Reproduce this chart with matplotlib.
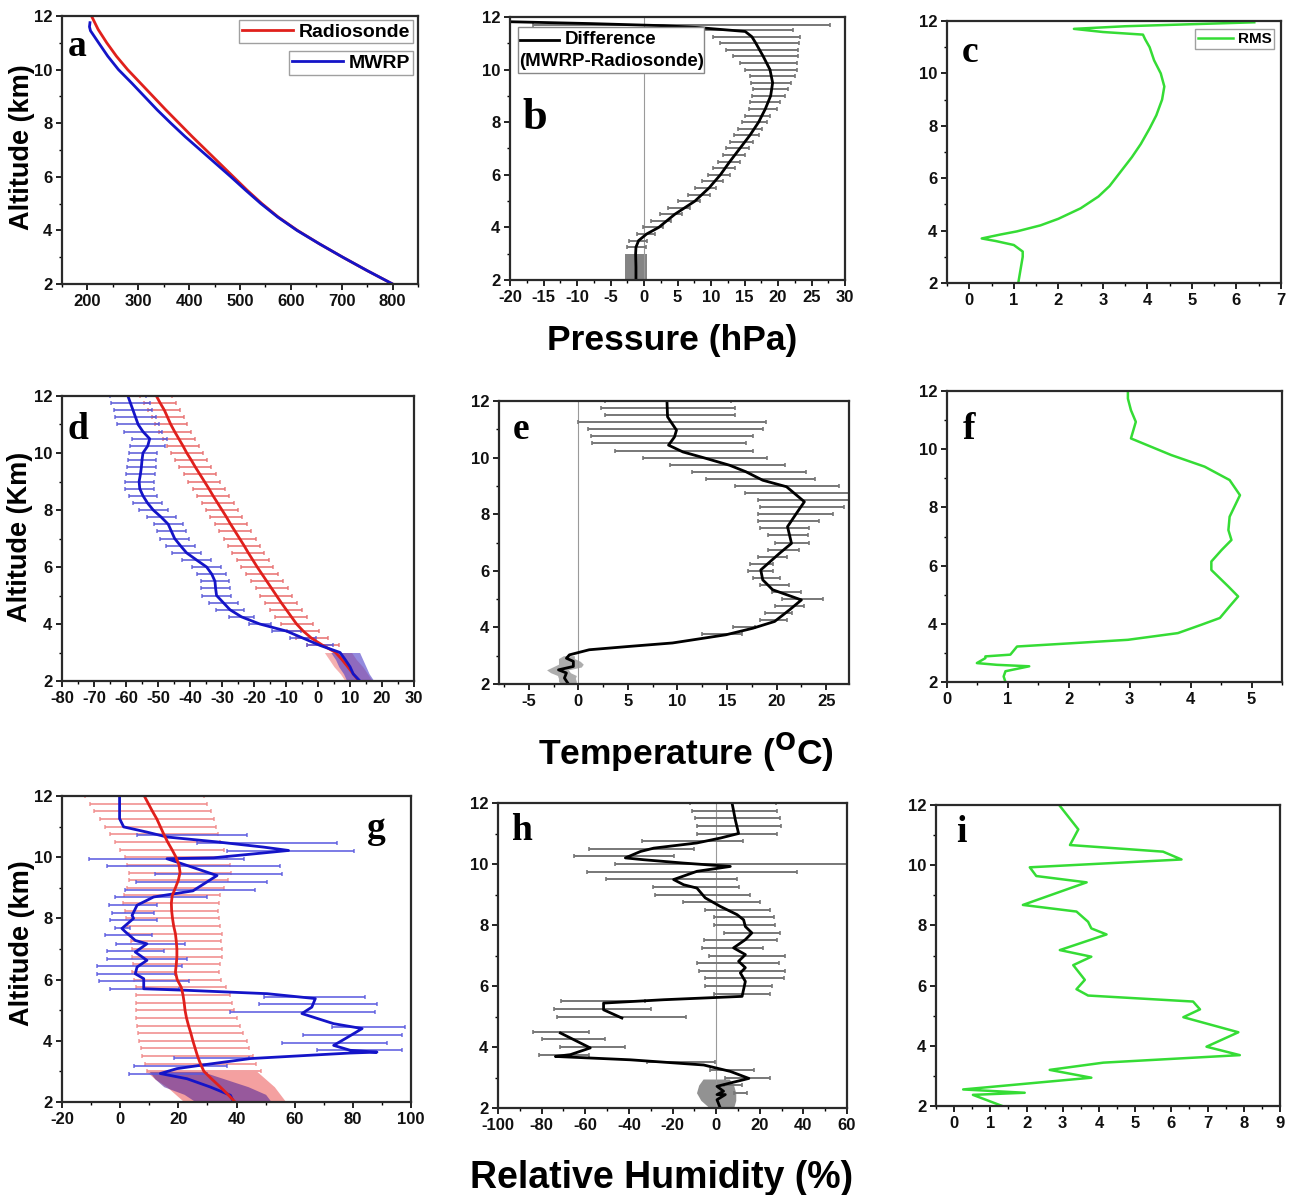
import numpy as np
import matplotlib
matplotlib.use("Agg")
import matplotlib.pyplot as plt
from matplotlib.ticker import MultipleLocator, AutoMinorLocator
from matplotlib.lines import Line2D
from matplotlib.patches import Rectangle

plt.rcParams['font.family'] = ['Liberation Sans', 'DejaVu Sans']
plt.rcParams['font.weight'] = 'bold'
plt.rcParams['axes.unicode_minus'] = False

# ---------------- DATA ----------------
# (a) pressure profiles
a_alt = [2.0, 2.5, 3.0, 3.5, 4.0, 4.5, 5.0, 5.5, 6.0, 6.5, 7.0, 7.5, 8.0, 8.5, 9.0, 9.5, 10.0, 10.5, 11.0, 11.5, 12.0]
a_radiosonde = [800, 750, 702, 656, 613, 575, 543, 514, 487, 460, 433, 406, 380, 354, 329, 304, 279, 257, 238, 221, 208]
a_mwrp_alt = [2.0, 2.5, 3.0, 3.5, 4.0, 4.5, 5.0, 5.5, 6.0, 6.5, 7.0, 7.5, 8.0, 8.5, 9.0, 9.5, 10.0, 10.5, 11.0, 11.45, 11.6, 11.75]
a_mwrp = [800, 750, 702, 656, 612, 574, 541, 511, 482, 452, 422, 392, 364, 337, 312, 287, 261, 240, 222, 206, 204, 205]

# (b) pressure difference (MWRP - Radiosonde)
b_alt = [2.0, 2.5, 3.0, 3.25, 3.5, 3.75, 4.0, 4.5, 5.0, 5.5, 6.0, 6.5, 7.0, 7.5, 8.0, 8.5, 9.0, 9.5, 10.0, 10.5, 11.0, 11.25, 11.45, 11.6, 11.67, 11.75, 11.82]
b_diff = [-1.2, -1.2, -1.25, -1.2, -0.8, 0.4, 2.2, 4.6, 7.6, 9.7, 11.4, 12.8, 14.3, 15.8, 17.1, 18.1, 18.9, 19.2, 18.8, 17.8, 16.7, 16.1, 15.1, 8.0, 2.9, -8.0, -20.0]
b_bar_alt = [3.25, 3.5, 3.75, 4.0, 4.25, 4.5, 4.75, 5.0, 5.25, 5.5, 5.75, 6.0, 6.25, 6.5, 6.75, 7.0, 7.25, 7.5, 7.75, 8.0, 8.25, 8.5, 8.75, 9.0, 9.25, 9.5, 9.75, 10.0, 10.25, 10.5, 10.75, 11.0, 11.25, 11.5, 11.7]
b_bar_lo = [-2.6, -2.3, -1.1, -0.1, 1.1, 2.4, 3.6, 5.1, 6.6, 7.6, 8.6, 9.6, 10.3, 11.1, 11.8, 12.3, 12.8, 13.4, 14.1, 14.6, 15.1, 15.6, 15.8, 16.1, 16.2, 16.0, 15.8, 15.1, 14.3, 13.3, 12.3, 11.3, 10.3, 8.9, -16.5]
b_bar_hi = [0.3, 0.4, 1.6, 2.9, 4.1, 5.6, 6.9, 8.4, 9.9, 10.8, 11.8, 12.8, 13.6, 14.3, 15.1, 15.6, 16.3, 17.1, 17.6, 18.3, 18.8, 19.8, 20.3, 21.0, 21.5, 22.0, 22.5, 22.8, 22.8, 23.0, 23.0, 23.2, 23.3, 22.3, 27.8]
b_low_alt = [2.0, 3.0]
b_low_lo = [-2.8, -2.8]
b_low_hi = [0.4, 0.4]

# (c) pressure RMS
c_alt = [2.0, 2.5, 3.0, 3.2, 3.45, 3.6, 3.7, 3.85, 3.97, 4.2, 4.45, 4.85, 5.3, 5.7, 6.25, 6.8, 7.3, 7.9, 8.4, 9.0, 9.5, 10.0, 10.5, 11.0, 11.3, 11.48, 11.58, 11.7, 11.8, 11.95]
c_rms = [1.1, 1.15, 1.2, 1.2, 1.0, 0.6, 0.28, 0.7, 1.07, 1.6, 2.0, 2.5, 2.9, 3.15, 3.4, 3.65, 3.85, 4.05, 4.2, 4.33, 4.38, 4.3, 4.15, 4.05, 3.95, 3.9, 3.0, 2.35, 3.5, 6.4]

# (d) temperature profiles
d_alt = [2.0, 2.25, 2.5, 2.75, 3.0, 3.25, 3.5, 3.75, 4.0, 4.25, 4.5, 4.75, 5.0, 5.25, 5.5, 5.75, 6.0, 6.25, 6.5, 6.75, 7.0, 7.25, 7.5, 7.75, 8.0, 8.25, 8.5, 8.75, 9.0, 9.25, 9.5, 9.75, 10.0, 10.25, 10.5, 10.75, 11.0, 11.25, 11.5, 11.75, 12.0]
d_radiosonde = [12.8, 11.0, 9.3, 7.5, 5.5, 1.5, -2.0, -4.6, -6.7, -8.3, -9.9, -11.5, -13.0, -14.5, -16.0, -17.5, -19.0, -20.4, -21.8, -23.1, -24.5, -25.9, -27.3, -28.6, -30.0, -31.4, -32.8, -34.1, -35.5, -36.9, -38.3, -39.6, -41.0, -42.2, -43.5, -44.8, -46.0, -47.0, -48.0, -49.3, -50.5]
d_mwrp = [13.1, 11.0, 10.0, 8.5, 6.9, 0.6, -4.6, -9.8, -18.2, -23.9, -27.5, -29.6, -31.7, -32.0, -32.2, -33.2, -34.8, -38.0, -41.1, -43.0, -44.8, -45.8, -46.8, -49.0, -51.5, -53.3, -54.7, -55.7, -55.9, -55.5, -55.2, -55.0, -54.7, -53.2, -52.6, -54.7, -56.2, -57.0, -57.8, -58.6, -59.4]
d_radiosonde_err = [5, 5, 5, 5, 5, 5, 5, 5, 5, 5, 5, 5, 5, 5, 5, 5, 5, 5, 5, 5, 5, 5, 5, 5, 5, 5, 5, 5, 5, 5, 5, 5, 5, 5, 5, 5, 5, 5, 5, 5, 5]
d_mwrp_err = [4, 4, 4, 4, 4, 4, 4, 4.5, 3.5, 4, 4.5, 4.5, 4.5, 4.5, 4.5, 4.5, 4.5, 4.5, 4.5, 4.5, 4.5, 4.5, 4.5, 4.5, 4.5, 4.5, 4.5, 4.5, 4.5, 4.5, 4.5, 4.5, 4.5, 5.5, 5.5, 6, 6.5, 6.5, 6, 6, 5.5]
d_low_alt = [2.0, 2.25, 2.5, 2.75, 3.0]
d_red_low_lo = [8.5, 7.0, 5.0, 3.5, 2.0]
d_red_low_hi = [17.0, 15.5, 14.0, 12.0, 10.5]
d_blue_low_lo = [9.0, 8.0, 6.5, 5.5, 4.0]
d_blue_low_hi = [17.5, 16.0, 15.0, 14.0, 13.0]

# (e) temperature difference
e_alt = [2.0, 2.21, 2.39, 2.5, 2.62, 2.8, 2.91, 3.03, 3.21, 3.33, 3.45, 3.74, 3.97, 4.21, 4.62, 4.97, 5.33, 5.68, 6.03, 6.62, 6.97, 7.56, 8.03, 8.44, 8.97, 9.2, 9.5, 9.73, 9.97, 10.2, 10.44, 10.73, 10.97, 11.44, 12.0]
e_diff = [-1.0, -1.4, -1.2, -2.0, -0.5, -0.5, -1.2, -0.9, 1.1, 5.2, 9.5, 14.9, 17.6, 19.8, 21.3, 22.5, 19.6, 18.6, 18.4, 20.3, 21.5, 21.1, 22.0, 22.8, 21.0, 18.6, 16.9, 15.25, 12.9, 10.55, 9.1, 9.7, 9.9, 9.0, 8.94]
e_bar_alt = [3.75, 4.0, 4.25, 4.5, 4.75, 5.0, 5.25, 5.5, 5.75, 6.0, 6.25, 6.5, 6.75, 7.0, 7.25, 7.5, 7.75, 8.0, 8.25, 8.5, 8.75, 9.0, 9.25, 9.5, 9.75, 10.0, 10.25, 10.5, 10.75, 11.0, 11.25, 11.5, 11.75, 12.0]
e_bar_lo = [12.5, 15.6, 18.3, 18.8, 19.8, 20.5, 19.5, 18.3, 17.6, 17.1, 17.3, 18.1, 19.1, 19.8, 19.1, 18.3, 18.1, 18.1, 18.3, 18.1, 16.8, 15.8, 12.9, 11.5, 9.2, 6.5, 3.7, 1.4, 1.3, 1.0, 0.0, 2.7, 2.3, 2.7]
e_bar_hi = [16.5, 17.8, 21.0, 21.6, 22.8, 24.7, 22.5, 21.2, 20.3, 19.6, 19.6, 21.0, 22.3, 23.3, 23.2, 23.3, 24.3, 25.7, 26.8, 27.5, 27.5, 26.3, 23.9, 23.0, 20.8, 19.05, 17.6, 16.9, 17.6, 18.6, 18.9, 15.8, 15.8, 15.4]
e_low_alt = [2.0, 2.1, 2.2, 2.3, 2.4, 2.5, 2.6, 2.7, 2.8, 2.9, 3.0]
e_low_lo = [-1.8, -2.0, -2.0, -2.1, -2.8, -3.2, -2.6, -2.0, -2.0, -2.0, -1.5]
e_low_hi = [-0.2, -0.2, -0.3, -0.2, -0.8, -1.0, 0.3, 0.5, 0.2, -0.4, -0.4]

# (f) temperature RMS
f_alt = [2.0, 2.19, 2.37, 2.54, 2.59, 2.65, 2.82, 2.88, 2.94, 3.22, 3.33, 3.45, 3.68, 3.97, 4.2, 4.6, 4.94, 5.28, 5.85, 6.14, 6.54, 6.88, 7.22, 7.68, 8.42, 8.94, 9.4, 9.8, 10.37, 10.94, 11.34, 11.74, 12.0]
f_rms = [0.96, 0.93, 0.96, 1.35, 0.82, 0.49, 0.63, 0.63, 1.04, 1.15, 2.03, 2.97, 3.79, 4.18, 4.48, 4.64, 4.78, 4.62, 4.34, 4.34, 4.51, 4.67, 4.62, 4.64, 4.81, 4.64, 4.23, 3.68, 3.02, 3.1, 3.02, 2.97, 2.97]

# (g) relative humidity profiles
g_red_alt = [2.0, 2.25, 2.5, 2.75, 3.0, 3.25, 3.5, 3.75, 4.0, 4.25, 4.5, 4.75, 5.0, 5.25, 5.5, 5.75, 6.0, 6.25, 6.5, 6.75, 7.0, 7.25, 7.5, 7.75, 8.0, 8.25, 8.5, 8.75, 9.0, 9.25, 9.5, 9.75, 10.0, 10.25, 10.5, 10.75, 11.0, 11.25, 11.5, 11.75, 12.0]
g_radiosonde = [39.5, 37.0, 34.3, 31.5, 28.8, 27.6, 26.6, 25.8, 25.0, 24.3, 23.5, 22.8, 22.3, 22.0, 21.6, 21.0, 19.6, 19.0, 19.3, 19.5, 19.5, 19.3, 19.0, 18.4, 18.0, 17.7, 17.6, 17.9, 19.0, 20.0, 20.6, 20.2, 19.2, 17.8, 16.3, 15.0, 13.8, 12.6, 11.1, 9.7, 8.3]
g_radiosonde_err = [17, 17, 18, 19, 19.5, 19, 19, 18.5, 18.5, 18, 17.8, 17.5, 17, 16.5, 16, 15.5, 15, 15, 15, 15.5, 15.5, 15.5, 16, 16, 16, 16, 16.5, 16.5, 16.6, 17, 17.5, 17.7, 17.7, 18, 18, 18.5, 19, 19.5, 20, 20, 20.5]
g_mwrp_alt = [2.0, 2.22, 2.49, 2.76, 2.93, 3.09, 3.2, 3.42, 3.6, 3.63, 3.69, 3.85, 4.07, 4.4, 4.56, 4.89, 5.1, 5.38, 5.54, 5.65, 5.7, 6.03, 6.19, 6.41, 6.63, 6.9, 7.17, 7.28, 7.56, 7.67, 8.0, 8.1, 8.43, 8.7, 8.9, 9.4, 9.73, 9.95, 9.98, 10.22, 10.33, 10.5, 10.66, 10.82, 10.99, 11.26, 12.0]
g_mwrp = [39.0, 37.9, 31.0, 23.0, 13.8, 19.5, 27.6, 44.8, 79.0, 88.3, 79.1, 73.4, 77.4, 83.2, 73.4, 62.5, 65.9, 67.1, 50.5, 23.0, 8.1, 8.1, 5.2, 5.8, 9.2, 5.2, 9.2, 5.2, 1.8, 0.6, 4.6, 4.1, 5.8, 11.5, 25.0, 33.3, 23.0, 16.1, 32.1, 57.9, 49.3, 33.3, 16.1, 9.2, 1.2, -0.2, -0.2]
g_bar_alt = [2.93, 3.18, 3.44, 3.69, 3.93, 4.18, 4.45, 4.94, 5.19, 5.43, 5.69, 5.95, 6.19, 6.43, 6.68, 6.93, 7.17, 7.45, 7.7, 7.96, 8.19, 8.45, 8.7, 8.94, 9.19, 9.44, 9.7, 9.95, 10.2, 10.46, 10.74]
g_bar_lo = [2.9, 4.6, 18.4, 67.7, 55.6, 63.0, 72.8, 37.9, 47.6, 49.3, -3.4, -7.4, -8.0, -8.0, -4.5, -4.5, -1.3, -5.1, -1.7, -3.4, -2.8, -4.0, -1.7, 1.8, 5.6, 12.1, -4.5, -10.8, 36.7, 26.4, 5.8]
g_bar_hi = [29.9, 36.7, 44.2, 97.0, 91.7, 97.0, 98.0, 87.7, 88.3, 84.3, 20.1, 23.6, 19.0, 21.3, 23.0, 15.0, 22.4, 10.9, 3.5, 12.7, 11.5, 12.7, 29.9, 46.5, 50.5, 55.6, 55.1, 42.5, 80.3, 74.6, 43.6]
g_low_alt = [2.0, 2.25, 2.5, 2.75, 3.0]
g_red_low_lo = [22.0, 19.0, 16.0, 12.0, 9.0]
g_red_low_hi = [57.0, 55.0, 53.0, 50.0, 47.0]
g_blue_low_lo = [26.0, 22.0, 15.0, 12.0, 10.0]
g_blue_low_hi = [52.0, 50.0, 44.0, 36.0, 28.0]

# (h) relative humidity difference
h_alt = [2.0, 2.27, 2.44, 2.44, 2.55, 2.71, 2.82, 2.97, 3.2, 3.41, 3.58, 3.69, 3.75, 3.97, 4.46]
h_diff = [1.9, 0.4, 4.2, 0.4, 3.4, 0.4, 6.5, 15.0, 6.5, -5.7, -39.3, -73.7, -66.8, -57.7, -71.4]
h_alt2 = [4.95, 5.22, 5.44, 5.55, 5.66, 6.15, 6.43, 6.6, 6.81, 7.03, 7.25, 7.52, 7.74, 7.95, 8.17, 8.34, 8.61, 8.89, 9.21, 9.32, 9.49, 9.76, 9.92, 10.03, 10.14, 10.2, 10.41, 10.52, 10.69, 10.85, 11.0, 11.45, 12.0]
h_diff2 = [-43.2, -51.6, -51.6, -24.0, 11.9, 13.4, 11.1, 13.4, 10.3, 13.4, 8.0, 13.4, 16.4, 13.4, 12.6, 9.6, 1.9, -5.0, -8.8, -14.9, -19.5, -8.8, 6.5, -14.9, -33.2, -41.6, -34.7, -28.6, -8.8, 1.9, 10.3, 8.8, 7.3]
h_bar_alt = [2.5, 2.75, 3.0, 3.25, 3.5, 3.75, 4.0, 4.25, 4.5, 5.0, 5.25, 5.5, 5.75, 6.0, 6.25, 6.5, 6.75, 7.0, 7.25, 7.5, 7.75, 8.0, 8.25, 8.5, 8.75, 9.0, 9.25, 9.5, 9.75, 10.0, 10.25, 10.5, 10.75, 11.0, 11.25, 11.5, 11.75, 12.0]
h_bar_lo = [8.0, 3.5, 4.2, -2.7, -31.7, -81.4, -71.4, -79.8, -84.0, -73.0, -74.2, -71.1, -1.1, -5.0, -5.0, -8.0, -8.8, -3.4, -6.5, -5.7, 3.5, -1.1, -1.1, -5.0, -15.2, -27.9, -28.9, -50.3, -59.2, -46.2, -65.3, -58.4, -34.0, -8.8, -8.8, -9.5, -11.0, -11.8]
h_bar_hi = [14.2, 11.9, 24.5, 17.2, -0.4, -58.4, -41.9, -50.8, -58.4, -13.7, -29.9, -32.5, 24.8, 25.6, 31.0, 31.8, 28.7, 31.8, 21.5, 27.9, 29.4, 27.1, 26.4, 24.8, 20.0, 15.4, 10.3, 9.6, 37.1, 80.0, -19.5, -10.3, 12.2, 27.9, 29.7, 29.4, 27.9, 27.6]
h_low_alt = [2.0, 2.25, 2.5, 2.75, 2.95]
h_low_lo = [-3.0, -7.0, -9.0, -8.0, -6.0]
h_low_hi = [8.0, 9.0, 9.0, 8.0, 6.0]

# (i) relative humidity RMS
i_alt = [2.0, 2.37, 2.44, 2.55, 2.94, 3.2, 3.44, 3.69, 3.97, 4.45, 4.95, 5.21, 5.47, 5.67, 5.88, 6.19, 6.68, 6.96, 7.18, 7.7, 7.9, 8.12, 8.46, 8.68, 9.43, 9.64, 9.93, 10.19, 10.45, 10.67, 11.19, 11.97]
i_rms = [1.33, 0.52, 1.95, 0.25, 3.79, 2.64, 4.12, 7.89, 6.97, 7.85, 6.33, 6.79, 6.6, 3.7, 3.38, 3.61, 3.29, 3.79, 2.92, 4.21, 3.79, 3.7, 3.38, 1.9, 3.66, 2.27, 2.09, 6.28, 5.77, 3.2, 3.43, 2.92]

# ---------------- STYLE ----------------
W, H = 1295, 1195
fig = plt.figure(figsize=(W / 100, H / 100), dpi=100)

def px_axes(x0, x1, y0, y1):
    return fig.add_axes([x0 / W, 1 - y1 / H, (x1 - x0) / W, (y1 - y0) / H])

GREEN = '#35dc35'
RED = '#e0201c'
BLUE = '#1414c8'
GRAY = '#777777'

def style(ax, xlim, xmaj):
    ax.set_xlim(*xlim)
    ax.set_ylim(2, 12)
    ax.xaxis.set_major_locator(MultipleLocator(xmaj))
    ax.xaxis.set_minor_locator(AutoMinorLocator(2))
    ax.yaxis.set_major_locator(MultipleLocator(2))
    ax.yaxis.set_minor_locator(MultipleLocator(1))
    ax.tick_params(which='major', direction='out', length=4, width=1.3,
                   labelsize=12, pad=3, colors='#111111')
    ax.tick_params(which='minor', direction='out', length=2.5, width=1.0)
    for sp in ax.spines.values():
        sp.set_linewidth(1.6)
        sp.set_color('#2a2a2a')
    for lab in ax.get_xticklabels() + ax.get_yticklabels():
        lab.set_fontweight('bold')

def letter(ax, s, xpx, ypx, size=27):
    fig.text(xpx / W, 1 - ypx / H, s, fontsize=size, fontweight='bold',
             family=['Liberation Serif', 'DejaVu Serif'], ha='center', va='center')

ebkw = dict(fmt='none', capsize=1.6, capthick=1.2, elinewidth=1.4)

# ---------------- (a) ----------------
ax = px_axes(62, 418, 16, 284)
ax.plot(a_radiosonde, a_alt, color=RED, lw=2.0)
ax.plot(a_mwrp, a_mwrp_alt, color=BLUE, lw=2.0)
style(ax, (150, 850), 100)
leg1 = ax.legend([Line2D([], [], color=RED, lw=2)], ['Radiosonde'], loc='upper right',
                 bbox_to_anchor=(0.985, 0.985), fontsize=14, frameon=True, fancybox=False,
                 borderpad=0.15, handlelength=2.6, handletextpad=0.3, borderaxespad=0)
leg1.get_frame().set_edgecolor('#888888')
ax.add_artist(leg1)
leg2 = ax.legend([Line2D([], [], color=BLUE, lw=2)], ['MWRP'], loc='upper right',
                 bbox_to_anchor=(0.985, 0.868), fontsize=14, frameon=True, fancybox=False,
                 borderpad=0.15, handlelength=2.6, handletextpad=0.3, borderaxespad=0)
leg2.get_frame().set_edgecolor('#888888')
for lg in (leg1, leg2):
    for t in lg.get_texts():
        t.set_fontweight('bold')
letter(ax, 'a', 77, 47)

# ---------------- (b) ----------------
ax = px_axes(510, 845, 17, 280)
ax.axvline(0, color='#9a9a9a', lw=0.8)
ax.fill_betweenx(b_low_alt, b_low_lo, b_low_hi, color=GRAY, alpha=0.9, lw=0)
bc = [(l + h) / 2 for l, h in zip(b_bar_lo, b_bar_hi)]
be = [(h - l) / 2 for l, h in zip(b_bar_lo, b_bar_hi)]
ax.errorbar(bc, b_bar_alt, xerr=be, ecolor=GRAY, **ebkw)
ax.plot(b_diff, b_alt, color='black', lw=2.0)
style(ax, (-20, 30), 5)
ax.add_patch(Rectangle((0.024, 0.787), 0.555, 0.175, transform=ax.transAxes,
                       facecolor='white', edgecolor='#888888', lw=1.0, zorder=5))
ax.add_line(Line2D([0.03, 0.145], [0.913, 0.913], transform=ax.transAxes, color='black', lw=2, zorder=6))
ax.text(0.163, 0.913, 'Difference', transform=ax.transAxes, fontsize=13.5, fontweight='bold',
        va='center', ha='left', zorder=6)
ax.text(0.027, 0.83, '(MWRP-Radiosonde)', transform=ax.transAxes, fontsize=13.5, fontweight='bold',
        va='center', ha='left', zorder=6)
letter(ax, 'b', 535, 118, size=32)
fig.text(672 / W, 1 - 340 / H, 'Pressure (hPa)', fontsize=25.5, fontweight='bold', ha='center', va='center')

# ---------------- (c) ----------------
ax = px_axes(947, 1281, 21, 283)
ax.plot(c_rms, c_alt, color=GREEN, lw=1.8, label='RMS')
style(ax, (-0.5, 7), 1)
lg = ax.legend(loc='upper right', bbox_to_anchor=(0.98, 0.968), fontsize=11, frameon=True,
               fancybox=False, borderpad=0.2, handlelength=2.3, handletextpad=0.3, borderaxespad=0)
lg.get_frame().set_edgecolor('#888888')
for t in lg.get_texts():
    t.set_fontweight('bold')
letter(ax, 'c', 970, 52)

# ---------------- (d) ----------------
ax = px_axes(62, 414, 396, 681)
ax.fill_betweenx(d_low_alt, d_red_low_lo, d_red_low_hi, color='#ee7070', alpha=0.55, lw=0)
ax.fill_betweenx(d_low_alt, d_blue_low_lo, d_blue_low_hi, color='#4b3cc8', alpha=0.6, lw=0)
ax.errorbar(d_radiosonde[5:], d_alt[5:], xerr=d_radiosonde_err[5:], ecolor='#e87070', alpha=0.8, **ebkw)
ax.errorbar(d_mwrp[5:], d_alt[5:], xerr=d_mwrp_err[5:], ecolor='#5a5ad8', alpha=0.8, **ebkw)
ax.plot(d_radiosonde, d_alt, color=RED, lw=2.0)
ax.plot(d_mwrp, d_alt, color=BLUE, lw=2.0)
style(ax, (-80, 30), 10)
letter(ax, 'd', 78, 430)

# ---------------- (e) ----------------
ax = px_axes(499, 849, 401, 684)
ax.axvline(0, color='#9a9a9a', lw=0.8)
ax.fill_betweenx(e_low_alt, e_low_lo, e_low_hi, color=GRAY, alpha=0.6, lw=0)
ec = [(l + h) / 2 for l, h in zip(e_bar_lo, e_bar_hi)]
ee = [(h - l) / 2 for l, h in zip(e_bar_lo, e_bar_hi)]
ax.errorbar(ec, e_bar_alt, xerr=ee, ecolor=GRAY, **ebkw)
ax.plot(e_diff, e_alt, color='black', lw=2.0)
style(ax, (-8, 27.3), 5)
letter(ax, 'e', 521, 430)
fig.text(686 / W, 1 - 752 / H, 'Temperature ($^{\\mathbf{O}}$C)', fontsize=25.5, fontweight='bold',
         ha='center', va='center')

# ---------------- (f) ----------------
ax = px_axes(947, 1282, 391, 682)
ax.plot(f_rms, f_alt, color=GREEN, lw=1.8)
style(ax, (0, 5.5), 1)
letter(ax, 'f', 969, 430)

# ---------------- (g) ----------------
ax = px_axes(62, 411, 796, 1102)
ax.fill_betweenx(g_low_alt, g_red_low_lo, g_red_low_hi, color='#f07878', alpha=0.7, lw=0)
ax.fill_betweenx(g_low_alt, g_blue_low_lo, g_blue_low_hi, color='#5a2a9a', alpha=0.6, lw=0)
ax.errorbar(g_radiosonde[4:], g_red_alt[4:], xerr=g_radiosonde_err[4:], ecolor='#f08a8a', alpha=0.8, **ebkw)
gc = [(l + h) / 2 for l, h in zip(g_bar_lo, g_bar_hi)]
ge = [(h - l) / 2 for l, h in zip(g_bar_lo, g_bar_hi)]
ax.errorbar(gc, g_bar_alt, xerr=ge, ecolor='#5a5ae0', alpha=0.8, **ebkw)
ax.plot(g_mwrp, g_mwrp_alt, color=BLUE, lw=2.0)
ax.plot(g_radiosonde, g_red_alt, color=RED, lw=2.0)
style(ax, (-20, 100), 20)
letter(ax, 'g', 376, 828)

# ---------------- (h) ----------------
ax = px_axes(498, 847, 803, 1108)
ax.axvline(0, color='#9a9a9a', lw=0.8)
ax.fill_betweenx(h_low_alt, h_low_lo, h_low_hi, color=GRAY, alpha=0.8, lw=0)
hc = [(l + h) / 2 for l, h in zip(h_bar_lo, h_bar_hi)]
he = [(h - l) / 2 for l, h in zip(h_bar_lo, h_bar_hi)]
ax.errorbar(hc, h_bar_alt, xerr=he, ecolor=GRAY, **ebkw)
ax.plot(h_diff, h_alt, color='black', lw=2.0)
ax.plot(h_diff2, h_alt2, color='black', lw=2.0)
style(ax, (-100, 60), 20)
letter(ax, 'h', 521, 831)
fig.text(662 / W, 1 - 1178 / H, 'Relative Humidity (%)', fontsize=27, fontweight='bold',
         ha='center', va='center')

# ---------------- (i) ----------------
ax = px_axes(936, 1280, 805, 1106)
ax.plot(i_rms, i_alt, color=GREEN, lw=1.8)
style(ax, (-0.5, 9), 1)
letter(ax, 'i', 961, 833)

# y labels
fig.text(22 / W, 1 - 147 / H, 'Altitude (km)', fontsize=19.5, fontweight='bold', rotation=90, ha='center', va='center')
fig.text(20 / W, 1 - 537 / H, 'Altitude (Km)', fontsize=19.5, fontweight='bold', rotation=90, ha='center', va='center')
fig.text(22 / W, 1 - 943 / H, 'Altitude (km)', fontsize=19.5, fontweight='bold', rotation=90, ha='center', va='center')

fig.savefig('out.png', dpi=100, facecolor='white')
